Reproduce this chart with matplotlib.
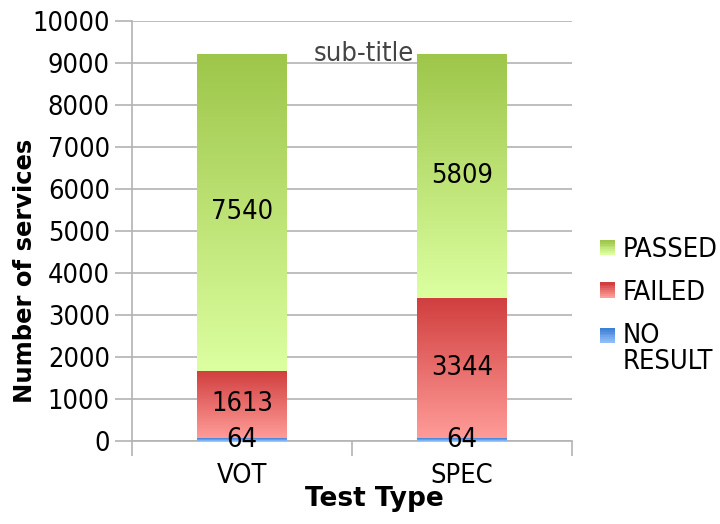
import numpy as np
import matplotlib
matplotlib.use('Agg')
import matplotlib.pyplot as plt
from matplotlib.colors import LinearSegmentedColormap
from matplotlib.patches import Rectangle
from matplotlib.legend_handler import HandlerBase

# data
categories = ['VOT', 'SPEC']
no_result = [64, 64]
failed = [1613, 3344]
passed = [7540, 5809]
series_names = ['NO\nRESULT', 'FAILED', 'PASSED']

# gradient colours (top, bottom) per series
grad_colors = {
    'NO\nRESULT': ('#3f7fd6', '#8fbef7'),
    'FAILED': ('#d03e3e', '#ff9c98'),
    'PASSED': ('#9dc64a', '#dcffa0'),
}

grid_col = '#b3b3b3'

# condensed DejaVu looks like the reference
plt.rcParams['font.family'] = ['DejaVu Sans Condensed', 'DejaVu Sans']
plt.rcParams['font.stretch'] = 'condensed'

fig = plt.figure(figsize=(7.2, 5.24), dpi=100)
ax = fig.add_axes([132 / 720, 1 - 441 / 524, 440 / 720, 420 / 524])

x = np.arange(len(categories))
bar_w = 0.405
series = [no_result, failed, passed]
bottoms = np.zeros(len(categories))

grad = np.linspace(0, 1, 256).reshape(-1, 1)
for name, vals in zip(series_names, series):
    top_c, bot_c = grad_colors[name]
    cmap = LinearSegmentedColormap.from_list(name, [bot_c, top_c])
    bars = ax.bar(x, vals, bar_w, bottom=bottoms, color='none', edgecolor='none', zorder=3)
    for b, v in zip(bars, vals):
        x0, y0, w, h = b.get_x(), b.get_y(), b.get_width(), b.get_height()
        ax.imshow(grad, extent=[x0, x0 + w, y0, y0 + h], origin='lower',
                  aspect='auto', cmap=cmap, zorder=3, interpolation='bilinear')
        ax.text(x0 + w / 2, y0 + h / 2, str(v), ha='center', va='center',
                fontsize=19.5, color='black', zorder=5)
    bottoms = bottoms + np.array(vals)

ax.set_xlim(-0.5, len(categories) - 0.5)
ax.set_ylim(0, 10000)
ax.set_yticks(np.arange(0, 10001, 1000))
ax.set_xticks(x)
ax.set_xticklabels(categories)
ax.set_xticks(np.arange(-0.5, len(categories), 1), minor=True)

ax.yaxis.grid(True, color=grid_col, linewidth=1.2, zorder=0)
ax.set_axisbelow(True)
for s in ['top', 'right']:
    ax.spines[s].set_visible(False)
for s in ['left', 'bottom']:
    ax.spines[s].set_color(grid_col)
    ax.spines[s].set_linewidth(1.2)

ax.tick_params(axis='y', labelsize=19.5, length=12, color=grid_col, width=1.2, pad=4)
ax.tick_params(axis='x', which='major', labelsize=19.5, length=0, pad=16)
ax.tick_params(axis='x', which='minor', length=11, color=grid_col, width=1.2)

# axis titles are bold, normal width
ax.set_xlabel('Test Type', fontsize=19, fontweight='bold',
              family='DejaVu Sans', fontstretch='normal')
ax.set_ylabel('Number of services', fontsize=17.5, fontweight='bold',
              family='DejaVu Sans', fontstretch='normal')
ax.xaxis.set_label_coords(0.551, -0.106)
ax.yaxis.set_label_coords(-0.215, 0.405)

fig.text(364 / 720, 1 - 61 / 524, 'sub-title', ha='center', va='baseline',
         fontsize=19.5, color='#444444', zorder=10)


# legend with small gradient squares
class GradHandler(HandlerBase):
    def __init__(self, top_c, bot_c, dy=0.0):
        super().__init__()
        self.cmap = LinearSegmentedColormap.from_list('g', [bot_c, top_c])
        self.dy = dy

    def create_artists(self, legend, orig_handle, xdescent, ydescent, width,
                       height, fontsize, trans):
        n = 8
        side = min(width, height)
        x0 = -xdescent + (width - side) / 2
        y0 = -ydescent + (height - side) / 2 + self.dy * fontsize
        arts = []
        for i in range(n):
            r = Rectangle((x0, y0 + side * i / n), side, side / n + 0.3,
                          facecolor=self.cmap(i / (n - 1)), edgecolor='none',
                          transform=trans)
            arts.append(r)
        return arts


handles, labels, hmap = [], [], {}
for name in reversed(series_names):
    h = Rectangle((0, 0), 1, 1)
    handles.append(h)
    labels.append(name)
    hmap[h] = GradHandler(*grad_colors[name], dy=0.5 if '\n' in name else 0.0)

leg = fig.legend(handles, labels, handler_map=hmap, loc='upper left',
                 bbox_to_anchor=(600 / 720, 1 - 237 / 524), frameon=False,
                 fontsize=19.5, handlelength=0.55, handleheight=0.55,
                 handletextpad=0.3, labelspacing=0.62, borderpad=0, borderaxespad=0)
for t in leg.get_texts():
    t.set_linespacing(1.0)

fig.savefig('out.png', dpi=100)
